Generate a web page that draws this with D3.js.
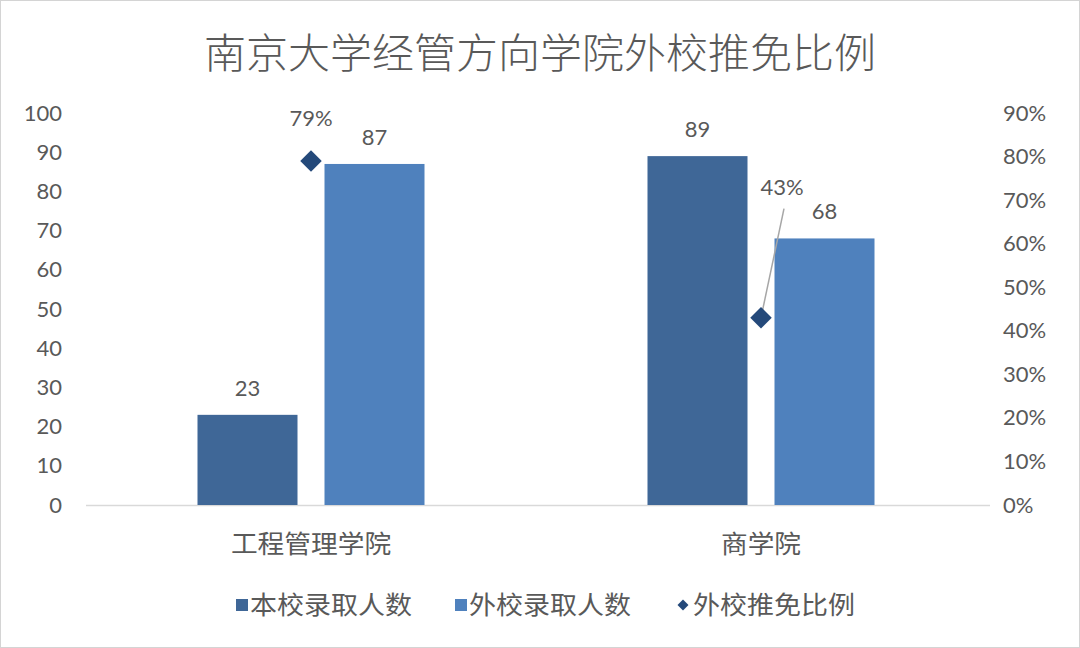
<!DOCTYPE html>
<html><head><meta charset="utf-8">
<script src="https://cdn.jsdelivr.net/npm/d3@7"></script>
<style>
html,body{margin:0;padding:0;background:#fff;}
svg{display:block;}
text{font-family:"Lato","Noto Sans CJK SC",sans-serif;fill:#595959;}
.cjk{font-family:"Noto Sans CJK SC",sans-serif;}
</style></head>
<body>
<script>
// ---- data ----
const title = "南京大学经管方向学院外校推免比例";
const categories = ["工程管理学院", "商学院"];
const seriesNames = ["本校录取人数", "外校录取人数", "外校推免比例"];
const localAdmits = [23, 89];
const externalAdmits = [87, 68];
const externalRatio = [0.79, 0.43];
const leftTicks = [0,10,20,30,40,50,60,70,80,90,100];
const rightTicks = [0,0.1,0.2,0.3,0.4,0.5,0.6,0.7,0.8,0.9];

// ---- styles ----
const W = 1080, H = 648;
const cDark = "#3F6797", cLight = "#4F81BD", cDiamond = "#24497A";

const svg = d3.select("body").append("svg").attr("width", W).attr("height", H);
svg.append("rect").attr("x",0.5).attr("y",0.5).attr("width",W-1).attr("height",H-1)
  .attr("fill","#fff").attr("stroke","#d4d4d4");

const x0 = d3.scaleBand().domain(categories).range([86, 986]);
const yL = d3.scaleLinear().domain([0,100]).range([505,113]);
const yR = d3.scaleLinear().domain([0,0.9]).range([505,113]);
const groupW = 227;
const x1 = d3.scaleBand().domain([0,1]).range([0, groupW]).paddingInner(27/127).paddingOuter(0);
const cx = c => x0(c) + x0.bandwidth()/2;

// title
svg.append("text").attr("class","cjk").attr("x",540).attr("y",68)
  .attr("text-anchor","middle").attr("font-size",41).attr("font-weight",300)
  .attr("textLength",672).attr("lengthAdjust","spacingAndGlyphs")
  .text(title);

// left axis
const gL = svg.append("g").attr("transform","translate(62,0)")
  .call(d3.axisLeft(yL).tickValues(leftTicks).tickSize(0).tickPadding(0));
gL.select(".domain").remove();
gL.selectAll("text").attr("font-size",22).attr("fill","#595959").style("font-family","Lato");

// right axis
const gR = svg.append("g").attr("transform","translate(1003,0)")
  .call(d3.axisRight(yR).tickValues(rightTicks).tickFormat(d3.format(".0%")).tickSize(0).tickPadding(0));
gR.select(".domain").remove();
gR.selectAll("text").attr("font-size",22).attr("fill","#595959").style("font-family","Lato");

// baseline
svg.append("line").attr("x1",86).attr("x2",990).attr("y1",yL(0)+0.5).attr("y2",yL(0)+0.5)
  .attr("stroke","#d9d9d9").attr("stroke-width",1.5);

// bars
const barData = [];
categories.forEach((c,i)=>{
  barData.push({c, s:0, v:localAdmits[i], color:cDark});
  barData.push({c, s:1, v:externalAdmits[i], color:cLight});
});
const bx = d => cx(d.c) - groupW/2 + x1(d.s);
svg.append("g").selectAll("rect").data(barData).join("rect")
  .attr("x", bx).attr("width", x1.bandwidth())
  .attr("y", d=>yL(d.v)).attr("height", d=>yL(0)-yL(d.v))
  .attr("fill", d=>d.color);
svg.append("g").selectAll("text").data(barData).join("text")
  .attr("x", d=>bx(d)+x1.bandwidth()/2).attr("y", d=>yL(d.v)-19)
  .attr("text-anchor","middle").attr("font-size",22).text(d=>d.v);

// ratio markers
const diamond = d3.symbol().type(d3.symbolSquare).size(230);
const ratioData = categories.map((c,i)=>({c, v:externalRatio[i], i}));
const labelOff = [{dx:0, dy:-35, leader:false},{dx:21, dy:-123, leader:true}];
svg.append("g").selectAll("line").data(ratioData.filter(d=>labelOff[d.i].leader)).join("line")
  .attr("x1", d=>cx(d.c)).attr("y1", d=>yR(d.v))
  .attr("x2", d=>cx(d.c)+labelOff[d.i].dx+2).attr("y2", d=>yR(d.v)+labelOff[d.i].dy+14)
  .attr("stroke","#a6a6a6").attr("stroke-width",1.5);
svg.append("g").selectAll("path").data(ratioData).join("path")
  .attr("d", diamond)
  .attr("transform", d=>`translate(${cx(d.c)},${yR(d.v)}) rotate(45)`)
  .attr("fill", cDiamond);
svg.append("g").selectAll("text").data(ratioData).join("text")
  .attr("x", d=>cx(d.c)+labelOff[d.i].dx).attr("y", d=>yR(d.v)+labelOff[d.i].dy)
  .attr("text-anchor","middle").attr("font-size",22).text(d=>d3.format(".0%")(d.v));

// category labels
svg.append("g").selectAll("text").data(categories).join("text")
  .attr("class","cjk").attr("x", cx).attr("y", 553)
  .attr("text-anchor","middle").attr("font-size",25)
  .attr("textLength", d=>d.length*26.7).attr("lengthAdjust","spacingAndGlyphs")
  .text(d=>d);

// legend
const legX = [236, 455, 676];
const leg = svg.append("g").selectAll("g").data(seriesNames).join("g")
  .attr("transform",(d,i)=>`translate(${legX[i]},605)`);
leg.each(function(d,i){
  const g = d3.select(this);
  if(i<2){
    g.append("rect").attr("x",0).attr("y",-6).attr("width",12).attr("height",12)
      .attr("fill", i===0?cDark:cLight);
  } else {
    g.append("path").attr("d", d3.symbol().type(d3.symbolSquare).size(60)())
      .attr("transform","translate(7,0) rotate(45)").attr("fill",cDiamond);
  }
  g.append("text").attr("class","cjk").attr("x", i<2?14:17).attr("y",9)
    .attr("font-size",25).attr("textLength",162).attr("lengthAdjust","spacingAndGlyphs").text(d);
});
</script>
</body></html>
